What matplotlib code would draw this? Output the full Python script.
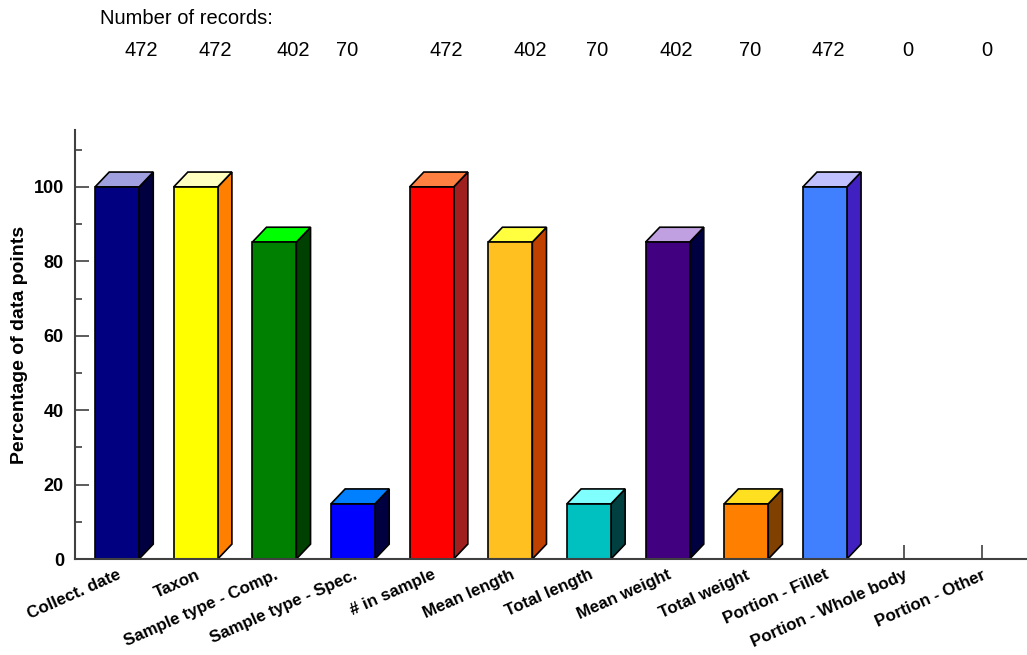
import matplotlib
matplotlib.use("Agg")
import matplotlib.pyplot as plt
from matplotlib.ticker import MultipleLocator

plt.rcParams["font.family"] = ["Liberation Sans", "DejaVu Sans"]

categories = ["Collect. date", "Taxon", "Sample type - Comp.", "Sample type - Spec.",
              "# in sample", "Mean length", "Total length", "Mean weight",
              "Total weight", "Portion - Fillet", "Portion - Whole body", "Portion - Other"]
records = [472, 472, 402, 70, 472, 402, 70, 402, 70, 472, 0, 0]
total = 472
percent = [100 * r / total for r in records]

# front, side, top colours per bar
front = ["#000080", "#ffff00", "#008000", "#0000ff", "#ff0000", "#ffc020",
         "#00c0c0", "#400080", "#ff8000", "#4080ff", "#808080", "#808080"]
side = ["#000040", "#ff8000", "#004000", "#000040", "#a02020", "#c04000",
        "#004040", "#000040", "#804000", "#4020c0", "#404040", "#404040"]
top = ["#a0a0e0", "#ffffc0", "#00ff00", "#0080ff", "#ff8040", "#ffff40",
       "#80ffff", "#c0a0e0", "#ffe020", "#c0c0ff", "#c0c0c0", "#c0c0c0"]
# small horizontal nudges of the record counts (in category units)
count_nudge = [0.31, 0.25, 0.24, -0.08, 0.18, 0.25, 0.11, 0.11, 0.05, 0.04, 0.05, 0.06]

fig = plt.figure(figsize=(10.27, 6.55), dpi=100)
ax = fig.add_axes([75 / 1027, 96 / 655, 1 - 75 / 1027, 429 / 655])

width = 0.56
dx, dy = 0.18, 4.0
x = list(range(len(categories)))
bars = ax.bar(x, percent, width=width, color=front, edgecolor="black", linewidth=1.2, zorder=3)
for b, s, t in zip(bars, side, top):
    h = b.get_height()
    if h <= 0:
        continue
    x0 = b.get_x()
    x1 = x0 + b.get_width()
    ax.fill([x1, x1 + dx, x1 + dx, x1], [0, dy, h + dy, h], facecolor=s,
            edgecolor="black", linewidth=1.2, zorder=2)
    ax.fill([x0, x1, x1 + dx, x0 + dx], [h, h, h + dy, h + dy], facecolor=t,
            edgecolor="black", linewidth=1.2, zorder=2)

ax.set_xlim(-0.535, 11.57)
ax.set_ylim(0, 115.3)
ax.set_xticks(x)
ax.set_xticklabels(categories, rotation=24, ha="right", rotation_mode="anchor",
                   fontsize=12.2, fontweight="bold")
ax.yaxis.set_major_locator(MultipleLocator(20))
ax.yaxis.set_minor_locator(MultipleLocator(10))
for lbl in ax.get_yticklabels():
    lbl.set_fontweight("bold")
ax.tick_params(axis="y", which="major", direction="in", length=10, width=1.2,
               color="#404040", labelsize=13, pad=8)
ax.tick_params(axis="y", which="minor", direction="in", length=5, width=1.2, color="#404040")
ax.tick_params(axis="x", direction="in", length=10, width=1.2, color="#404040", pad=6)
for t in ax.xaxis.get_ticklines():
    t.set_zorder(5)
for sp in ["top", "right"]:
    ax.spines[sp].set_visible(False)
for sp in ["left", "bottom"]:
    ax.spines[sp].set_color("#404040")
    ax.spines[sp].set_linewidth(1.5)
    ax.spines[sp].set_zorder(6)
ax.set_axisbelow(False)
ax.set_ylabel("Percentage of data points", fontsize=14, fontweight="bold", labelpad=4)

fig.text(100 / 1027, 1 - 19 / 655, "Number of records:", fontsize=14.5, va="center", ha="left")
for i, r in enumerate(records):
    xd = ax.transData.transform((i + count_nudge[i], 0))[0]
    fig.text(xd / fig.bbox.width, 1 - 51 / 655, str(r), fontsize=14.5, va="center", ha="center")

fig.savefig("out.png", dpi=100)
